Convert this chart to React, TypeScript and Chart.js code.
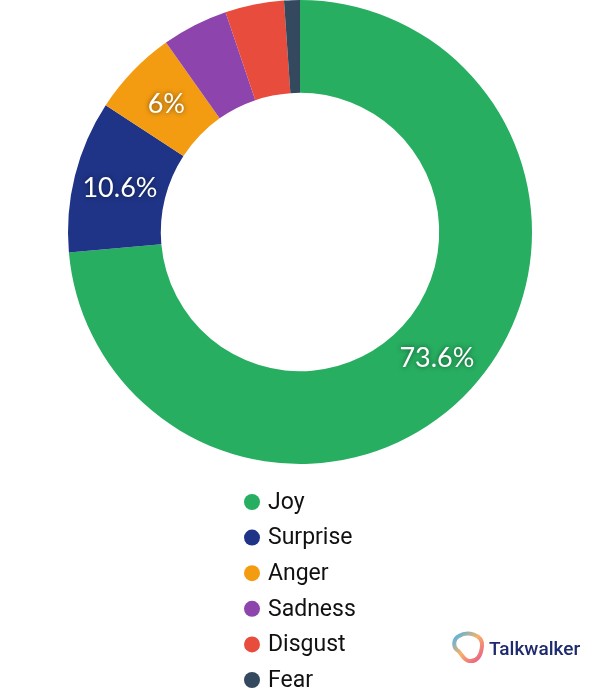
import React, { useEffect, useRef } from "react";
import { Chart, registerables } from "chart.js";

Chart.register(...registerables);

const categories = ["Joy", "Surprise", "Anger", "Sadness", "Disgust", "Fear"];
const values = [73.6, 10.6, 6, 4.6, 4.1, 1.1];
const labelTexts = ["73.6%", "10.6%", "6%", "", "", ""];
const colors = ["#27ae60", "#1f3487", "#f39c12", "#8e44ad", "#e74c3c", "#34495e"];
const brandName = "Talkwalker";

const sliceLabelPlugin = {
  id: "sliceLabels",
  afterDatasetsDraw(chart: any) {
    const ctx = chart.ctx;
    const meta = chart.getDatasetMeta(0);
    ctx.save();
    ctx.font = "27px Lato";
    ctx.fillStyle = "#ffffff";
    ctx.textAlign = "center";
    ctx.textBaseline = "middle";
    ctx.shadowColor = "rgba(0,0,0,0.55)";
    ctx.shadowBlur = 5;
    meta.data.forEach((arc: any, i: number) => {
      const t = labelTexts[i];
      if (!t) return;
      const p = arc.tooltipPosition();
      ctx.fillText(t, p.x, p.y + 1);
    });
    ctx.restore();
  },
};

const legendPlugin = {
  id: "columnLegend",
  afterDraw(chart: any) {
    const ctx = chart.ctx;
    ctx.save();
    const x0 = 252;
    const y0 = 502;
    const step = 35.6;
    ctx.font = "23px Roboto";
    ctx.textBaseline = "middle";
    ctx.textAlign = "left";
    categories.forEach((c, i) => {
      const y = y0 + i * step;
      ctx.beginPath();
      ctx.arc(x0, y, 8, 0, Math.PI * 2);
      ctx.fillStyle = colors[i];
      ctx.fill();
      ctx.fillStyle = "#111111";
      ctx.fillText(c, x0 + 16, y + 1);
    });

    // brand logo
    const cx = 469;
    const cy = 648;
    const g = ctx.createLinearGradient(cx - 14, cy - 14, cx + 14, cy + 14);
    g.addColorStop(0, "#4fb3e8");
    g.addColorStop(0.45, "#f7b267");
    g.addColorStop(1, "#e8508c");
    ctx.lineWidth = 4;
    ctx.strokeStyle = g;
    ctx.beginPath();
    ctx.moveTo(cx - 10, cy - 12);
    ctx.bezierCurveTo(cx - 2, cy - 17, cx + 14, cy - 14, cx + 13, cy - 2);
    ctx.bezierCurveTo(cx + 12, cy + 8, cx + 8, cy + 14, cx, cy + 13);
    ctx.bezierCurveTo(cx - 6, cy + 12, cx - 8, cy + 4, cx - 12, cy + 2);
    ctx.bezierCurveTo(cx - 16, cy - 1, cx - 16, cy - 9, cx - 10, cy - 12);
    ctx.closePath();
    ctx.stroke();
    ctx.fillStyle = "#1d2a6d";
    ctx.font = "500 19px Roboto";
    ctx.textBaseline = "alphabetic";
    ctx.fillText(brandName, 489, 655);
    ctx.restore();
  },
};

export default function App() {
  const ref = useRef<HTMLCanvasElement>(null);
  useEffect(() => {
    document.body.style.margin = "0";
    const chart = new Chart(ref.current!, {
      type: "doughnut",
      data: {
        labels: categories,
        datasets: [
          {
            data: values,
            backgroundColor: colors,
            borderWidth: 0,
          },
        ],
      },
      options: {
        animation: false,
        responsive: false,
        cutout: "60%",
        layout: { padding: { top: 0, left: 0, right: 0, bottom: 225 } },
        plugins: {
          legend: { display: false },
          tooltip: { enabled: false },
        },
      },
      plugins: [sliceLabelPlugin, legendPlugin],
    });
    return () => chart.destroy();
  }, []);
  return (
    <div style={{ width: 600, height: 689 }}>
      <canvas ref={ref} width={600} height={689} style={{ display: "block" }} />
    </div>
  );
}
